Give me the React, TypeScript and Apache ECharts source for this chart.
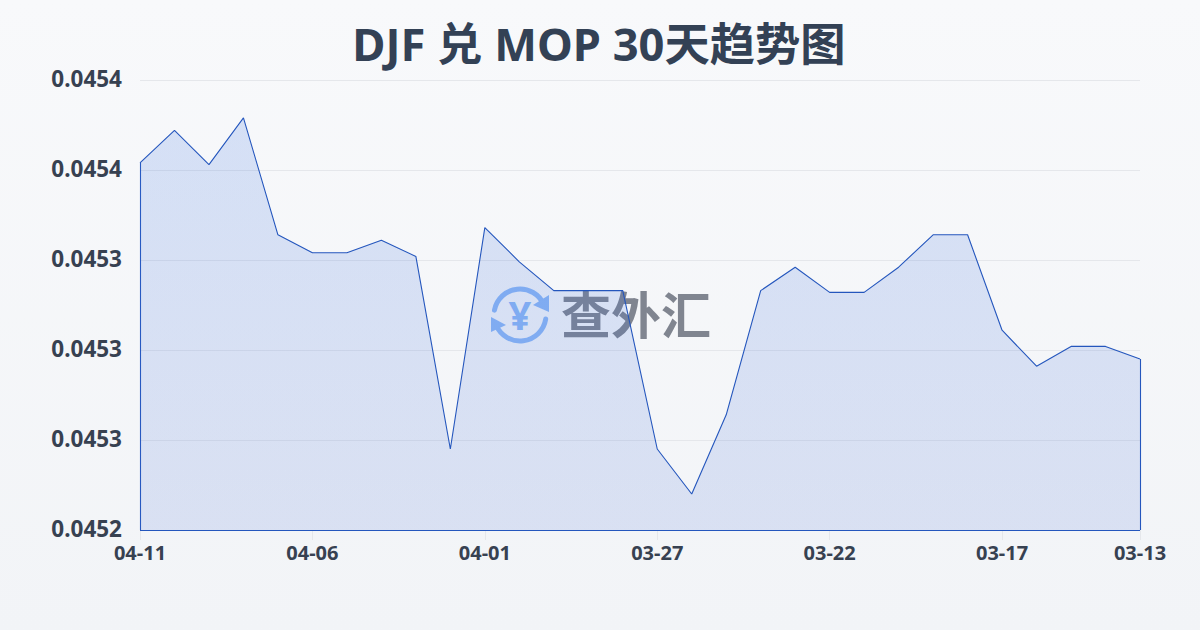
import React, { useEffect, useRef } from "react";
import * as echarts from "echarts";

const titleText = "DJF 兑 MOP 30天趋势图";
const dates = ["04-11","04-10","04-09","04-08","04-07","04-06","04-05","04-04","04-03","04-02","04-01","03-31","03-30","03-29","03-28","03-27","03-26","03-25","03-24","03-23","03-22","03-21","03-20","03-19","03-18","03-17","03-16","03-15","03-14","03-13"];
const rates = [0.045404,0.045422,0.045403,0.045429,0.045364,0.045354,0.045354,0.045361,0.045352,0.045245,0.045368,0.045349,0.045333,0.045333,0.045333,0.045245,0.04522,0.045264,0.045333,0.045346,0.045332,0.045332,0.045346,0.045364,0.045364,0.045311,0.045291,0.045302,0.045302,0.045295];
const yTickLabels = ["0.0452","0.0453","0.0453","0.0453","0.0454","0.0454"];
const yMin = 0.0452;
const yMax = 0.04545;
const yStep = 0.00005;
const fontFamily = '"Noto Sans", "Noto Sans CJK SC", sans-serif';
const watermarkText = "查外汇";
const lineColor = "#2456bd";
const logoColor = "#8db8f6";

const showLabel = (i: number) => i % 5 === 0 || i === dates.length - 1;

export default function App() {
  const ref = useRef<HTMLDivElement>(null);
  useEffect(() => {
    document.body.style.margin = "0";
    const chart = echarts.init(ref.current!, null, { renderer: "svg" });
    const last = dates.length - 1;
    chart.setOption({
      animation: false,
      backgroundColor: new echarts.graphic.LinearGradient(0, 0, 0, 1, [
        { offset: 0, color: "#f8f9fb" },
        { offset: 1, color: "#f2f4f7" },
      ]),
      title: {
        text: titleText,
        left: 594,
        textAlign: "center",
        top: 16,
        textStyle: { fontFamily, fontSize: 45.3, fontWeight: "bold", color: "#334155" },
      },
      grid: { left: 140, right: 60, top: 80, bottom: 100 },
      xAxis: {
        type: "category",
        boundaryGap: false,
        data: dates,
        axisLine: { show: false },
        axisTick: { show: true, length: 10, interval: (i: number) => showLabel(i), lineStyle: { color: "#e5e7eb" } },
        axisLabel: {
          interval: (i: number) => showLabel(i),
          fontFamily, fontSize: 20, fontWeight: "bold", color: "#374151", margin: 12,
          showMinLabel: true, showMaxLabel: true,
        },
        splitLine: { show: false },
      },
      yAxis: {
        type: "value",
        min: yMin,
        max: yMax,
        interval: yStep,
        axisLine: { show: false },
        axisTick: { show: false },
        axisLabel: {
          fontFamily, fontSize: 22.5, fontWeight: "bold", color: "#374151", margin: 18,
          verticalAlign: "bottom",
          lineHeight: 4,
          formatter: (_v: number, i: number) => yTickLabels[i],
        },
        splitLine: { show: true, lineStyle: { color: "#e5e7eb", width: 1 } },
      },
      graphic: [
        {
          type: "group",
          z: 0,
          silent: true,
          children: [
            { type: "arc", shape: { cx: 520, cy: 315, r: 26, startAngle: Math.PI * 1.06, endAngle: Math.PI * 1.87 }, style: { stroke: logoColor, lineWidth: 5, fill: "none", lineCap: "round" } },
            { type: "arc", shape: { cx: 520, cy: 315, r: 26, startAngle: Math.PI * 0.05, endAngle: Math.PI * 0.87 }, style: { stroke: logoColor, lineWidth: 5, fill: "none", lineCap: "round" } },
            { type: "polygon", shape: { points: [[549, 295], [549, 312], [533, 305]] }, style: { fill: logoColor } },
            { type: "polygon", shape: { points: [[491, 317], [491, 332], [506, 325]] }, style: { fill: logoColor } },
            { type: "text", x: 520, y: 314, style: { text: "¥", fontFamily, fontSize: 40, fontWeight: "bold", fill: logoColor, align: "center", verticalAlign: "middle" } },
            { type: "text", x: 636, y: 312, style: { text: watermarkText, fontFamily: '"Noto Sans CJK SC"', fontSize: 50, fontWeight: "bold", fill: "#808590", align: "center", verticalAlign: "middle" } },
          ],
        },
      ],
      series: [
        {
          type: "line",
          data: rates,
          z: 5,
          symbol: "none",
          showSymbol: false,
          smooth: false,
          lineStyle: { color: lineColor, width: 1.1 },
          areaStyle: {
            origin: "start",
            opacity: 1,
            color: new echarts.graphic.LinearGradient(0, 0, 0, 1, [
              { offset: 0, color: "rgba(59,115,225,0.18)" },
              { offset: 1, color: "rgba(59,100,210,0.14)" },
            ]),
          },
          markLine: {
            silent: true,
            symbol: "none",
            label: { show: false },
            lineStyle: { color: lineColor, width: 1.1, type: "solid" },
            data: [
              [{ coord: [dates[0], yMin] }, { coord: [dates[0], rates[0]] }],
              [{ coord: [dates[0], yMin] }, { coord: [dates[last], yMin] }],
              [{ coord: [dates[last], yMin] }, { coord: [dates[last], rates[last]] }],
            ],
          },
        },
      ],
    });
    return () => chart.dispose();
  }, []);
  return <div ref={ref} style={{ width: 1200, height: 630 }} />;
}
